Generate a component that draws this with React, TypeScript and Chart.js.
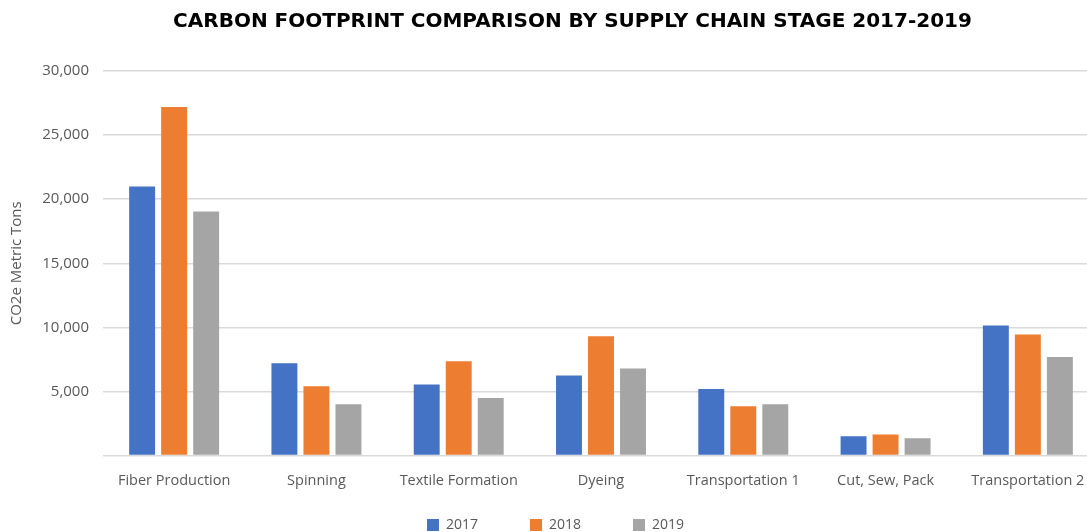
import React, { useEffect, useRef } from "react";
import { Chart, registerables } from "chart.js";

Chart.register(...registerables);

const categories = [
  "Fiber Production",
  "Spinning",
  "Textile Formation",
  "Dyeing",
  "Transportation 1",
  "Cut, Sew, Pack",
  "Transportation 2",
];
const values2017 = [21000, 7200, 5550, 6250, 5200, 1500, 10150];
const values2018 = [27200, 5400, 7350, 9300, 3850, 1650, 9450];
const values2019 = [19050, 4000, 4500, 6800, 4000, 1350, 7700];
const seriesLabels = ["2017", "2018", "2019"];
const yTicks = [0, 5000, 10000, 15000, 20000, 25000, 30000];

const VIEW_W = 1087;
const VIEW_H = 532;
const CANVAS_W = 1099;
const LEGEND_PAD = 52;
const LEGEND_LAYOUT_HEIGHT = 33;
const LEGEND_TOP = 466;
const LEGEND_LEFT = 24;
const TITLE_SHIFT = 58;

const layoutTweaks = {
  id: "layoutTweaks",
  beforeLayout(chart: any) {
    const lg = chart.legend;
    if (lg && !lg._patchedFit) {
      const orig = lg.fit;
      lg.fit = function (this: any) {
        orig.call(this);
        this.height = LEGEND_LAYOUT_HEIGHT;
      };
      lg._patchedFit = true;
    }
  },
  afterLayout(chart: any) {
    const lg = chart.legend;
    if (lg) {
      lg.top = LEGEND_TOP;
      lg.bottom = chart.height;
      lg.height = lg.bottom - lg.top;
      lg.left = LEGEND_LEFT;
      lg.right = VIEW_W;
      lg.width = lg.right - lg.left;
    }
    const tb = chart.titleBlock;
    if (tb) {
      tb.left = TITLE_SHIFT;
      tb.right = VIEW_W;
      tb.width = tb.right - tb.left;
    }
  },
};

export default function App() {
  const ref = useRef<HTMLCanvasElement | null>(null);
  useEffect(() => {
    if (!ref.current) return;
    const font = "'Open Sans', sans-serif";
    const chart = new Chart(ref.current, {
      type: "bar",
      data: {
        labels: categories,
        datasets: [
          { label: seriesLabels[0], data: values2017, backgroundColor: "#4472C4" },
          { label: seriesLabels[1], data: values2018, backgroundColor: "#ED7D31" },
          { label: seriesLabels[2], data: values2019, backgroundColor: "#A5A5A5" },
        ],
      },
      plugins: [layoutTweaks],
      options: {
        animation: false,
        responsive: false,
        maintainAspectRatio: false,
        layout: { padding: { left: 0, right: 0, top: 0, bottom: 0 } },
        datasets: { bar: { barPercentage: 0.81, categoryPercentage: 0.675 } },
        plugins: {
          title: {
            display: true,
            text: "CARBON FOOTPRINT COMPARISON BY SUPPLY CHAIN STAGE 2017-2019",
            color: "#000000",
            font: { family: "'DejaVu Sans', sans-serif", size: 20, weight: "bold" },
            padding: { top: 10, bottom: 37 },
          },
          legend: {
            position: "bottom",
            labels: {
              boxWidth: 12,
              boxHeight: 12,
              padding: LEGEND_PAD,
              color: "#595959",
              font: { family: font, size: 14 },
            },
          },
          tooltip: { enabled: false },
        },
        scales: {
          x: {
            grid: { display: false },
            border: { display: false },
            ticks: { color: "#595959", font: { family: font, size: 14.5 }, padding: 9 },
          },
          y: {
            min: 0,
            max: 30000,
            afterBuildTicks: (scale: any) => {
              scale.ticks = yTicks.map((v) => ({ value: v }));
            },
            afterFit: (scale: any) => {
              scale.width = 103;
            },
            grid: { color: "#d9d9d9", lineWidth: 1.5, drawTicks: false },
            border: { display: false },
            title: {
              display: true,
              text: "CO2e Metric Tons",
              color: "#595959",
              font: { family: font, size: 15 },
              padding: { top: 8, bottom: 4 },
            },
            ticks: {
              color: "#595959",
              font: { family: font, size: 15 },
              padding: 14,
              callback: (v: any) => (Number(v) === 0 ? "" : Number(v).toLocaleString("en-US")),
            },
          },
        },
      },
    });
    return () => chart.destroy();
  }, []);
  return (
    <div
      style={{
        position: "fixed",
        left: 0,
        top: 0,
        width: VIEW_W,
        height: VIEW_H,
        overflow: "hidden",
        background: "#fff",
      }}
    >
      <canvas ref={ref} width={CANVAS_W} height={VIEW_H} style={{ display: "block" }} />
    </div>
  );
}
